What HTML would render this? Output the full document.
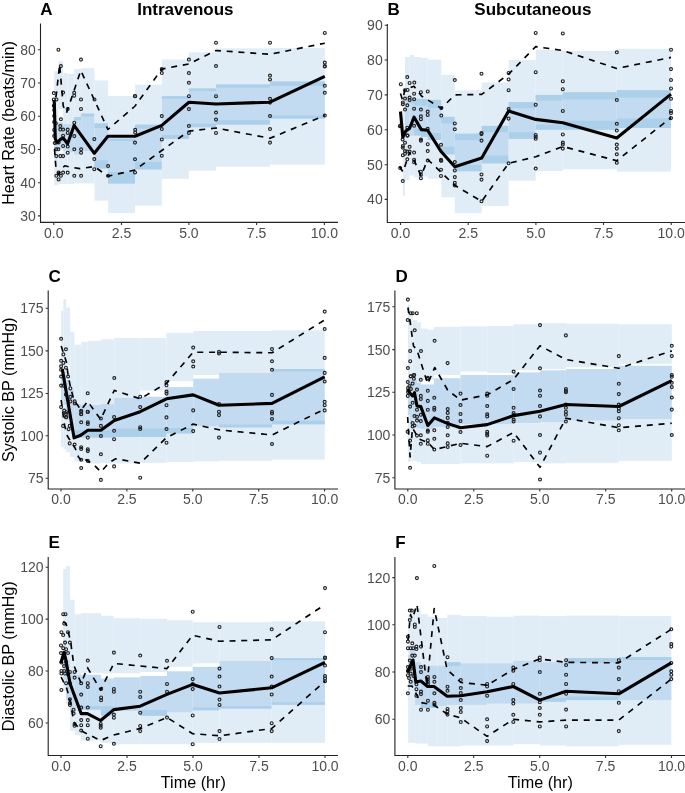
<!DOCTYPE html><html><head><meta charset="utf-8"><style>html,body{margin:0;padding:0;background:#fff;}svg{display:block;will-change:transform;}text{font-family:"Liberation Sans", sans-serif;}</style></head><body>
<svg width="685" height="793" viewBox="0 0 685 793">
<rect x="0" y="0" width="685" height="793" fill="#fff"/>
<g>
<rect x="54.2" y="71.2" width="4.1" height="114.1" fill="#e0edf7"/>
<rect x="54.2" y="122" width="4.1" height="28" fill="#c2dbf0"/>
<rect x="58.3" y="61.2" width="4.8" height="47.8" fill="#e0edf7"/>
<rect x="58.3" y="122" width="4.8" height="27" fill="#c2dbf0"/>
<rect x="58.3" y="153" width="4.8" height="31" fill="#e0edf7"/>
<rect x="63.1" y="73.1" width="4.4" height="110.9" fill="#e0edf7"/>
<rect x="63.1" y="124" width="4.4" height="27" fill="#c2dbf0"/>
<rect x="67.5" y="73.8" width="6.7" height="110.2" fill="#e0edf7"/>
<rect x="67.5" y="124" width="6.7" height="28" fill="#c2dbf0"/>
<rect x="74.2" y="69" width="7" height="114.4" fill="#e0edf7"/>
<rect x="74.2" y="117" width="7" height="37.4" fill="#c2dbf0"/>
<rect x="74.2" y="117" width="7" height="3.4" fill="#accfea"/>
<rect x="81.2" y="68.1" width="13.3" height="115.3" fill="#e0edf7"/>
<rect x="81.2" y="113.6" width="13.3" height="37.4" fill="#c2dbf0"/>
<rect x="81.2" y="113.6" width="13.3" height="2.8" fill="#accfea"/>
<rect x="94.5" y="80.5" width="13.6" height="120.1" fill="#e0edf7"/>
<rect x="94.5" y="123.4" width="13.6" height="45.1" fill="#c2dbf0"/>
<rect x="94.5" y="123.4" width="13.6" height="4.6" fill="#accfea"/>
<rect x="94.5" y="160.4" width="13.6" height="8.1" fill="#accfea"/>
<rect x="108.1" y="96" width="27" height="117" fill="#e0edf7"/>
<rect x="108.1" y="138.5" width="27" height="45" fill="#c2dbf0"/>
<rect x="108.1" y="138.5" width="27" height="2.5" fill="#accfea"/>
<rect x="108.1" y="172" width="27" height="11.5" fill="#accfea"/>
<rect x="135.1" y="84.6" width="26.7" height="121" fill="#e0edf7"/>
<rect x="135.1" y="124.7" width="26.7" height="44.7" fill="#c2dbf0"/>
<rect x="135.1" y="124.7" width="26.7" height="3.8" fill="#accfea"/>
<rect x="135.1" y="161.9" width="26.7" height="7.5" fill="#accfea"/>
<rect x="161.8" y="59.5" width="27.1" height="119.4" fill="#e0edf7"/>
<rect x="161.8" y="96.2" width="27.1" height="42.7" fill="#c2dbf0"/>
<rect x="161.8" y="96.2" width="27.1" height="2.6" fill="#accfea"/>
<rect x="161.8" y="135" width="27.1" height="3.9" fill="#accfea"/>
<rect x="188.9" y="52.3" width="27.1" height="118.3" fill="#e0edf7"/>
<rect x="188.9" y="88.5" width="27.1" height="38.7" fill="#c2dbf0"/>
<rect x="188.9" y="88.5" width="27.1" height="2.5" fill="#accfea"/>
<rect x="188.9" y="123.5" width="27.1" height="3.7" fill="#accfea"/>
<rect x="216" y="48.4" width="54" height="118.3" fill="#e0edf7"/>
<rect x="216" y="84.5" width="54" height="40.1" fill="#c2dbf0"/>
<rect x="216" y="84.5" width="54" height="3.1" fill="#accfea"/>
<rect x="216" y="120.2" width="54" height="4.4" fill="#accfea"/>
<rect x="270" y="47.9" width="54.8" height="116.7" fill="#e0edf7"/>
<rect x="270" y="81.5" width="54.8" height="37.1" fill="#c2dbf0"/>
<rect x="270" y="81.5" width="54.8" height="4.3" fill="#accfea"/>
<rect x="270" y="115.5" width="54.8" height="3.1" fill="#accfea"/>
<g fill="none" stroke="#222" stroke-width="1.15">
<circle cx="58.4" cy="49.7" r="1.45"/>
<circle cx="81" cy="59.6" r="1.45"/>
<circle cx="60.9" cy="66.1" r="1.45"/>
<circle cx="53.8" cy="93" r="1.45"/>
<circle cx="53.8" cy="99.4" r="1.45"/>
<circle cx="56.5" cy="99.4" r="1.45"/>
<circle cx="63.1" cy="92.6" r="1.45"/>
<circle cx="74.2" cy="92.8" r="1.45"/>
<circle cx="74.2" cy="95.7" r="1.45"/>
<circle cx="81" cy="99.4" r="1.45"/>
<circle cx="94.5" cy="99.4" r="1.45"/>
<circle cx="81" cy="108.9" r="1.45"/>
<circle cx="53.8" cy="105.8" r="1.45"/>
<circle cx="67.7" cy="109" r="1.45"/>
<circle cx="60.9" cy="119.3" r="1.45"/>
<circle cx="55.8" cy="123.2" r="1.45"/>
<circle cx="60.3" cy="126.1" r="1.45"/>
<circle cx="60.3" cy="129.5" r="1.45"/>
<circle cx="63.1" cy="129.5" r="1.45"/>
<circle cx="67.7" cy="129.5" r="1.45"/>
<circle cx="67.7" cy="132.9" r="1.45"/>
<circle cx="74.3" cy="122.7" r="1.45"/>
<circle cx="63.1" cy="135.7" r="1.45"/>
<circle cx="74.3" cy="136.1" r="1.45"/>
<circle cx="56.3" cy="142.5" r="1.45"/>
<circle cx="58.6" cy="142.5" r="1.45"/>
<circle cx="63.1" cy="145.9" r="1.45"/>
<circle cx="67.7" cy="146.5" r="1.45"/>
<circle cx="56.3" cy="149.3" r="1.45"/>
<circle cx="58.4" cy="149.3" r="1.45"/>
<circle cx="74.3" cy="149.3" r="1.45"/>
<circle cx="81.1" cy="149.3" r="1.45"/>
<circle cx="81.1" cy="152.7" r="1.45"/>
<circle cx="67.7" cy="152.7" r="1.45"/>
<circle cx="56.3" cy="156.1" r="1.45"/>
<circle cx="60.3" cy="156.1" r="1.45"/>
<circle cx="63.1" cy="156.1" r="1.45"/>
<circle cx="94.3" cy="139.1" r="1.45"/>
<circle cx="94.3" cy="159" r="1.45"/>
<circle cx="94.3" cy="169.2" r="1.45"/>
<circle cx="58.6" cy="172.6" r="1.45"/>
<circle cx="63.1" cy="172.6" r="1.45"/>
<circle cx="67.7" cy="172.6" r="1.45"/>
<circle cx="56.3" cy="175.8" r="1.45"/>
<circle cx="60.9" cy="175.8" r="1.45"/>
<circle cx="74.3" cy="175.8" r="1.45"/>
<circle cx="81.1" cy="175.8" r="1.45"/>
<circle cx="58.6" cy="179.4" r="1.45"/>
<circle cx="54.2" cy="110" r="1.45"/>
<circle cx="54.2" cy="116" r="1.45"/>
<circle cx="54.2" cy="122" r="1.45"/>
<circle cx="54.2" cy="130" r="1.45"/>
<circle cx="54.2" cy="136" r="1.45"/>
<circle cx="54.8" cy="143" r="1.45"/>
<circle cx="108.1" cy="166" r="1.45"/>
<circle cx="108.1" cy="175.8" r="1.45"/>
<circle cx="135" cy="142.6" r="1.45"/>
<circle cx="135" cy="159.3" r="1.45"/>
<circle cx="135" cy="172.4" r="1.45"/>
<circle cx="135.2" cy="96.2" r="1.45"/>
<circle cx="135.2" cy="129.8" r="1.45"/>
<circle cx="135.2" cy="132.4" r="1.45"/>
<circle cx="134.9" cy="95.9" r="1.45"/>
<circle cx="161.8" cy="69.1" r="1.45"/>
<circle cx="161.8" cy="73" r="1.45"/>
<circle cx="161.8" cy="116.1" r="1.45"/>
<circle cx="161.8" cy="129" r="1.45"/>
<circle cx="161.8" cy="139.4" r="1.45"/>
<circle cx="161.8" cy="155.7" r="1.45"/>
<circle cx="188.9" cy="59.5" r="1.45"/>
<circle cx="188.9" cy="73" r="1.45"/>
<circle cx="188.9" cy="82.8" r="1.45"/>
<circle cx="188.9" cy="96.2" r="1.45"/>
<circle cx="188.9" cy="109.1" r="1.45"/>
<circle cx="188.9" cy="126" r="1.45"/>
<circle cx="188.9" cy="132.9" r="1.45"/>
<circle cx="216" cy="42.7" r="1.45"/>
<circle cx="216" cy="66" r="1.45"/>
<circle cx="216" cy="96.2" r="1.45"/>
<circle cx="216" cy="112.5" r="1.45"/>
<circle cx="216" cy="119.5" r="1.45"/>
<circle cx="216" cy="132.9" r="1.45"/>
<circle cx="270" cy="42.7" r="1.45"/>
<circle cx="270" cy="75.5" r="1.45"/>
<circle cx="270" cy="79.4" r="1.45"/>
<circle cx="270" cy="98.8" r="1.45"/>
<circle cx="270" cy="102.6" r="1.45"/>
<circle cx="270" cy="116" r="1.45"/>
<circle cx="270" cy="129" r="1.45"/>
<circle cx="270" cy="142.6" r="1.45"/>
<circle cx="324.8" cy="32.9" r="1.45"/>
<circle cx="324.8" cy="62.6" r="1.45"/>
<circle cx="324.8" cy="66" r="1.45"/>
<circle cx="324.8" cy="66.5" r="1.45"/>
<circle cx="324.8" cy="85.8" r="1.45"/>
<circle cx="324.8" cy="92.8" r="1.45"/>
<circle cx="324.8" cy="115.5" r="1.45"/>
</g>
<polyline points="53.8,108.9 56.5,93 59.6,64.5 63.2,106 66.5,113 80.8,70.5 107.9,129.5 135.1,106 161.8,69.1 188.9,63.9 216,50.5 270,54.3 324.8,43.2" fill="none" stroke="#000" stroke-width="1.65" stroke-dasharray="6 5.8" stroke-linejoin="round"/>
<polyline points="54.5,149 55.8,166 58.6,174.8 62,168 64.8,165.8 72.2,167.5 80,168.6 94.3,166.5 107.9,176.2 135.1,170 161.8,150.5 188.9,131.1 216,128 270,138.3 324.8,115.5" fill="none" stroke="#000" stroke-width="1.65" stroke-dasharray="6 5.8" stroke-linejoin="round"/>
<polyline points="54.2,100 55.3,139 57.5,142.5 60.2,139.5 63.1,138 67.6,143.7 74.1,125.4 94.3,153.3 107.9,136.3 135.1,136.3 161.8,125.4 188.9,102.2 216,104 270,102.2 324.8,76.3" fill="none" stroke="#000" stroke-width="3.1" stroke-linejoin="round"/>
<path d="M40.5,23.6V222.4H338" fill="none" stroke="#222" stroke-width="1.1"/>
<path d="M53.8,222.4v2.6M121.5,222.4v2.6M188.9,222.4v2.6M256.6,222.4v2.6M324.4,222.4v2.6M40.5,215.9h-2.6M40.5,182.7h-2.6M40.5,149.5h-2.6M40.5,116.2h-2.6M40.5,83h-2.6M40.5,49.7h-2.6" stroke="#333" stroke-width="1.1" fill="none"/>
<g font-size="14" fill="#4d4d4d">
<text x="53.8" y="237.5" text-anchor="middle">0.0</text>
<text x="121.5" y="237.5" text-anchor="middle">2.5</text>
<text x="188.9" y="237.5" text-anchor="middle">5.0</text>
<text x="256.6" y="237.5" text-anchor="middle">7.5</text>
<text x="324.4" y="237.5" text-anchor="middle">10.0</text>
<text x="35.9" y="220.85" text-anchor="end">30</text>
<text x="35.9" y="187.65" text-anchor="end">40</text>
<text x="35.9" y="154.45" text-anchor="end">50</text>
<text x="35.9" y="121.15" text-anchor="end">60</text>
<text x="35.9" y="87.95" text-anchor="end">70</text>
<text x="35.9" y="54.65" text-anchor="end">80</text>
</g>
</g>
<g>
<rect x="402.8" y="87.4" width="2.2" height="108.4" fill="#e0edf7"/>
<rect x="405" y="57" width="4.6" height="122.9" fill="#e0edf7"/>
<rect x="405" y="97" width="4.6" height="37" fill="#c2dbf0"/>
<rect x="409.6" y="55.1" width="4.5" height="120.3" fill="#e0edf7"/>
<rect x="409.6" y="98.8" width="4.5" height="36.9" fill="#c2dbf0"/>
<rect x="409.6" y="98.8" width="4.5" height="4.5" fill="#accfea"/>
<rect x="414.1" y="57" width="6.8" height="120.6" fill="#e0edf7"/>
<rect x="414.1" y="98.8" width="6.8" height="36.7" fill="#c2dbf0"/>
<rect x="414.1" y="98.8" width="6.8" height="6.8" fill="#accfea"/>
<rect x="414.1" y="128.5" width="6.8" height="7" fill="#accfea"/>
<rect x="420.9" y="57.9" width="6.8" height="118.6" fill="#e0edf7"/>
<rect x="420.9" y="98.8" width="6.8" height="38.2" fill="#c2dbf0"/>
<rect x="420.9" y="98.8" width="6.8" height="6.8" fill="#accfea"/>
<rect x="420.9" y="129.5" width="6.8" height="7.5" fill="#accfea"/>
<rect x="427.7" y="59.6" width="13.6" height="119.2" fill="#e0edf7"/>
<rect x="427.7" y="99.9" width="13.6" height="40.1" fill="#c2dbf0"/>
<rect x="427.7" y="99.9" width="13.6" height="7.9" fill="#accfea"/>
<rect x="427.7" y="133" width="13.6" height="7" fill="#accfea"/>
<rect x="441.3" y="74.8" width="13.5" height="122.5" fill="#e0edf7"/>
<rect x="441.3" y="116.9" width="13.5" height="37.5" fill="#c2dbf0"/>
<rect x="441.3" y="116.9" width="13.5" height="6.5" fill="#accfea"/>
<rect x="441.3" y="146.6" width="13.5" height="7.8" fill="#accfea"/>
<rect x="454.8" y="90.3" width="26.9" height="122.9" fill="#e0edf7"/>
<rect x="454.8" y="133.7" width="26.9" height="37.5" fill="#c2dbf0"/>
<rect x="454.8" y="133.7" width="26.9" height="6.5" fill="#accfea"/>
<rect x="454.8" y="164.7" width="26.9" height="6.5" fill="#accfea"/>
<rect x="481.7" y="82.5" width="26.9" height="123.4" fill="#e0edf7"/>
<rect x="481.7" y="125.9" width="26.9" height="37.4" fill="#c2dbf0"/>
<rect x="481.7" y="125.9" width="26.9" height="6.4" fill="#accfea"/>
<rect x="481.7" y="155.6" width="26.9" height="7.7" fill="#accfea"/>
<rect x="508.6" y="60" width="27.1" height="120.6" fill="#e0edf7"/>
<rect x="508.6" y="102.1" width="27.1" height="36.7" fill="#c2dbf0"/>
<rect x="508.6" y="102.1" width="27.1" height="6.2" fill="#accfea"/>
<rect x="508.6" y="132.3" width="27.1" height="6.5" fill="#accfea"/>
<rect x="535.7" y="49.7" width="27.1" height="121.3" fill="#e0edf7"/>
<rect x="535.7" y="94.9" width="27.1" height="34.8" fill="#c2dbf0"/>
<rect x="535.7" y="94.9" width="27.1" height="5.7" fill="#accfea"/>
<rect x="535.7" y="124.6" width="27.1" height="5.1" fill="#accfea"/>
<rect x="562.8" y="51" width="54" height="118.2" fill="#e0edf7"/>
<rect x="562.8" y="92.3" width="54" height="37.4" fill="#c2dbf0"/>
<rect x="562.8" y="92.3" width="54" height="7.2" fill="#accfea"/>
<rect x="562.8" y="120.7" width="54" height="9" fill="#accfea"/>
<rect x="616.8" y="48.9" width="54.2" height="122.7" fill="#e0edf7"/>
<rect x="616.8" y="90.2" width="54.2" height="37.7" fill="#c2dbf0"/>
<rect x="616.8" y="90.2" width="54.2" height="7.3" fill="#accfea"/>
<rect x="616.8" y="118.6" width="54.2" height="9.3" fill="#accfea"/>
<g fill="none" stroke="#222" stroke-width="1.15">
<circle cx="407.3" cy="77" r="1.45"/>
<circle cx="400.8" cy="84.2" r="1.45"/>
<circle cx="409.6" cy="82.9" r="1.45"/>
<circle cx="414.3" cy="82.5" r="1.45"/>
<circle cx="405" cy="90.3" r="1.45"/>
<circle cx="407.6" cy="89.9" r="1.45"/>
<circle cx="414.1" cy="93.7" r="1.45"/>
<circle cx="420.9" cy="92.2" r="1.45"/>
<circle cx="427.7" cy="91.4" r="1.45"/>
<circle cx="405" cy="98.5" r="1.45"/>
<circle cx="409.6" cy="97.6" r="1.45"/>
<circle cx="409.6" cy="99.9" r="1.45"/>
<circle cx="414.1" cy="99.3" r="1.45"/>
<circle cx="402.8" cy="102.4" r="1.45"/>
<circle cx="402.8" cy="104.2" r="1.45"/>
<circle cx="407.3" cy="105.3" r="1.45"/>
<circle cx="405" cy="109.5" r="1.45"/>
<circle cx="414.1" cy="108.7" r="1.45"/>
<circle cx="420.9" cy="109.5" r="1.45"/>
<circle cx="427.7" cy="111.5" r="1.45"/>
<circle cx="427.7" cy="114.9" r="1.45"/>
<circle cx="420.9" cy="116.3" r="1.45"/>
<circle cx="420.9" cy="119.2" r="1.45"/>
<circle cx="441.3" cy="115.5" r="1.45"/>
<circle cx="441.3" cy="108.1" r="1.45"/>
<circle cx="399.9" cy="126.2" r="1.45"/>
<circle cx="407.3" cy="127.7" r="1.45"/>
<circle cx="414.1" cy="125.8" r="1.45"/>
<circle cx="427.7" cy="128.8" r="1.45"/>
<circle cx="407.3" cy="135.6" r="1.45"/>
<circle cx="420.9" cy="139.6" r="1.45"/>
<circle cx="407.6" cy="135.4" r="1.45"/>
<circle cx="420.9" cy="140.8" r="1.45"/>
<circle cx="427.7" cy="144.2" r="1.45"/>
<circle cx="441" cy="144.7" r="1.45"/>
<circle cx="405" cy="142.7" r="1.45"/>
<circle cx="402.8" cy="145.9" r="1.45"/>
<circle cx="402.8" cy="147.6" r="1.45"/>
<circle cx="409.6" cy="146.8" r="1.45"/>
<circle cx="405" cy="151" r="1.45"/>
<circle cx="407.3" cy="151.5" r="1.45"/>
<circle cx="409.6" cy="151.5" r="1.45"/>
<circle cx="414.1" cy="152.5" r="1.45"/>
<circle cx="427.7" cy="151" r="1.45"/>
<circle cx="402.8" cy="155.2" r="1.45"/>
<circle cx="405" cy="153.8" r="1.45"/>
<circle cx="407.3" cy="159.3" r="1.45"/>
<circle cx="414.1" cy="159.7" r="1.45"/>
<circle cx="414.1" cy="162.3" r="1.45"/>
<circle cx="427.7" cy="160.4" r="1.45"/>
<circle cx="441" cy="159.7" r="1.45"/>
<circle cx="441" cy="160.4" r="1.45"/>
<circle cx="400.2" cy="168" r="1.45"/>
<circle cx="420.9" cy="171.7" r="1.45"/>
<circle cx="420.9" cy="174.8" r="1.45"/>
<circle cx="420.9" cy="178.2" r="1.45"/>
<circle cx="441" cy="169.7" r="1.45"/>
<circle cx="441" cy="175.9" r="1.45"/>
<circle cx="402.8" cy="181" r="1.45"/>
<circle cx="400.5" cy="125.4" r="1.45"/>
<circle cx="402.6" cy="139.4" r="1.45"/>
<circle cx="441.3" cy="160.8" r="1.45"/>
<circle cx="454.8" cy="80" r="1.45"/>
<circle cx="454.8" cy="123.4" r="1.45"/>
<circle cx="454.8" cy="129.3" r="1.45"/>
<circle cx="454.8" cy="162.1" r="1.45"/>
<circle cx="454.8" cy="170.4" r="1.45"/>
<circle cx="454.8" cy="177.1" r="1.45"/>
<circle cx="454.8" cy="182.8" r="1.45"/>
<circle cx="454.8" cy="185.4" r="1.45"/>
<circle cx="481.5" cy="73.7" r="1.45"/>
<circle cx="481.5" cy="133.1" r="1.45"/>
<circle cx="481.5" cy="134.1" r="1.45"/>
<circle cx="481.5" cy="140.6" r="1.45"/>
<circle cx="481.5" cy="174.4" r="1.45"/>
<circle cx="481.5" cy="179.6" r="1.45"/>
<circle cx="481.5" cy="201.3" r="1.45"/>
<circle cx="508.6" cy="72.9" r="1.45"/>
<circle cx="508.6" cy="79.4" r="1.45"/>
<circle cx="508.6" cy="90.2" r="1.45"/>
<circle cx="508.6" cy="109.1" r="1.45"/>
<circle cx="508.6" cy="118.6" r="1.45"/>
<circle cx="508.6" cy="163.3" r="1.45"/>
<circle cx="535.7" cy="32.9" r="1.45"/>
<circle cx="535.7" cy="72.2" r="1.45"/>
<circle cx="535.7" cy="104.7" r="1.45"/>
<circle cx="535.7" cy="134.9" r="1.45"/>
<circle cx="535.7" cy="136.7" r="1.45"/>
<circle cx="535.7" cy="138.8" r="1.45"/>
<circle cx="535.7" cy="168.5" r="1.45"/>
<circle cx="562.8" cy="33.4" r="1.45"/>
<circle cx="562.8" cy="81.2" r="1.45"/>
<circle cx="562.8" cy="89.2" r="1.45"/>
<circle cx="562.8" cy="110.9" r="1.45"/>
<circle cx="562.8" cy="134.4" r="1.45"/>
<circle cx="562.8" cy="142.6" r="1.45"/>
<circle cx="562.8" cy="144.5" r="1.45"/>
<circle cx="562.8" cy="148.6" r="1.45"/>
<circle cx="616.8" cy="52.3" r="1.45"/>
<circle cx="616.8" cy="100" r="1.45"/>
<circle cx="616.8" cy="123.8" r="1.45"/>
<circle cx="616.8" cy="130.5" r="1.45"/>
<circle cx="616.8" cy="144.5" r="1.45"/>
<circle cx="616.8" cy="148.6" r="1.45"/>
<circle cx="616.8" cy="154.3" r="1.45"/>
<circle cx="616.8" cy="162.8" r="1.45"/>
<circle cx="671" cy="49.7" r="1.45"/>
<circle cx="671" cy="69.1" r="1.45"/>
<circle cx="671" cy="79.9" r="1.45"/>
<circle cx="671" cy="88.4" r="1.45"/>
<circle cx="671" cy="98.8" r="1.45"/>
<circle cx="671" cy="110.9" r="1.45"/>
<circle cx="671" cy="113" r="1.45"/>
<circle cx="671" cy="118.1" r="1.45"/>
</g>
<polyline points="400.5,93.5 402.5,100 405,89.5 414,86.3 421.5,96 441.3,108.4 454.8,94.9 481.7,94.4 508.6,74.2 535.7,46.6 562.8,50.5 616.8,68.5 671,57.4" fill="none" stroke="#000" stroke-width="1.65" stroke-dasharray="6 5.8" stroke-linejoin="round"/>
<polyline points="399.5,166.5 403,172 409.5,152.5 414,160 421,176 427.7,159.5 441.3,172.5 454.8,185.4 481.7,201.4 508.6,163.3 535.7,156.8 562.8,146.5 616.8,160.7 671,117.6" fill="none" stroke="#000" stroke-width="1.65" stroke-dasharray="6 5.8" stroke-linejoin="round"/>
<polyline points="400.5,111.5 402.8,137.3 405.7,131.1 409.5,128.5 414.1,117.2 421.3,129.6 427.7,130.3 441.3,151.8 454.8,166.8 481.7,158 508.6,110.9 535.7,119.4 562.8,122.8 616.8,138 671,94.1" fill="none" stroke="#000" stroke-width="3.1" stroke-linejoin="round"/>
<path d="M387.3,24.1V222.5H686" fill="none" stroke="#222" stroke-width="1.1"/>
<path d="M400.5,222.5v2.6M468.2,222.5v2.6M535.9,222.5v2.6M603.5,222.5v2.6M671.2,222.5v2.6M387.3,199.4h-2.6M387.3,164.7h-2.6M387.3,129.8h-2.6M387.3,94.9h-2.6M387.3,60h-2.6M387.3,25.2h-2.6" stroke="#333" stroke-width="1.1" fill="none"/>
<g font-size="14" fill="#4d4d4d">
<text x="400.5" y="237.6" text-anchor="middle">0.0</text>
<text x="468.2" y="237.6" text-anchor="middle">2.5</text>
<text x="535.9" y="237.6" text-anchor="middle">5.0</text>
<text x="603.5" y="237.6" text-anchor="middle">7.5</text>
<text x="671.2" y="237.6" text-anchor="middle">10.0</text>
<text x="382.7" y="204.35" text-anchor="end">40</text>
<text x="382.7" y="169.65" text-anchor="end">50</text>
<text x="382.7" y="134.75" text-anchor="end">60</text>
<text x="382.7" y="99.85" text-anchor="end">70</text>
<text x="382.7" y="64.95" text-anchor="end">80</text>
<text x="382.7" y="30.15" text-anchor="end">90</text>
</g>
</g>
<g>
<rect x="61" y="310.8" width="2.4" height="136.2" fill="#e0edf7"/>
<rect x="61" y="370" width="2.4" height="30" fill="#c2dbf0"/>
<rect x="63.4" y="299.2" width="2.7" height="149.8" fill="#e0edf7"/>
<rect x="63.4" y="372" width="2.7" height="33" fill="#c2dbf0"/>
<rect x="66.1" y="307.6" width="4.1" height="57.4" fill="#e0edf7"/>
<rect x="66.1" y="372" width="4.1" height="80" fill="#e0edf7"/>
<rect x="66.1" y="380" width="4.1" height="40" fill="#c2dbf0"/>
<rect x="70.2" y="332" width="4.2" height="125" fill="#e0edf7"/>
<rect x="70.2" y="390" width="4.2" height="40" fill="#c2dbf0"/>
<rect x="74.4" y="344.7" width="6.8" height="116.8" fill="#e0edf7"/>
<rect x="74.4" y="404" width="6.8" height="33.5" fill="#c2dbf0"/>
<rect x="74.4" y="430" width="6.8" height="7.5" fill="#accfea"/>
<rect x="81.2" y="341.9" width="6.6" height="119.6" fill="#e0edf7"/>
<rect x="81.2" y="404.5" width="6.6" height="33" fill="#c2dbf0"/>
<rect x="81.2" y="430" width="6.6" height="7.5" fill="#accfea"/>
<rect x="87.8" y="340.8" width="13.1" height="122.7" fill="#e0edf7"/>
<rect x="87.8" y="405" width="13.1" height="32.5" fill="#c2dbf0"/>
<rect x="87.8" y="430.3" width="13.1" height="7.2" fill="#accfea"/>
<rect x="100.9" y="339.3" width="13.4" height="123.7" fill="#e0edf7"/>
<rect x="100.9" y="404" width="13.4" height="33.5" fill="#c2dbf0"/>
<rect x="100.9" y="430.3" width="13.4" height="7.2" fill="#accfea"/>
<rect x="114.3" y="338" width="25.9" height="125.4" fill="#e0edf7"/>
<rect x="114.3" y="398" width="25.9" height="39" fill="#c2dbf0"/>
<rect x="114.3" y="428.5" width="25.9" height="8.5" fill="#accfea"/>
<rect x="140.2" y="338" width="26.3" height="52.5" fill="#e0edf7"/>
<rect x="140.2" y="396.7" width="26.3" height="40.3" fill="#c2dbf0"/>
<rect x="140.2" y="428.5" width="26.3" height="8.5" fill="#accfea"/>
<rect x="140.2" y="437" width="26.3" height="25.9" fill="#e0edf7"/>
<rect x="166.5" y="332.8" width="26.7" height="48.4" fill="#e0edf7"/>
<rect x="166.5" y="387.1" width="26.7" height="46.6" fill="#c2dbf0"/>
<rect x="166.5" y="428" width="26.7" height="5.7" fill="#accfea"/>
<rect x="166.5" y="433.7" width="26.7" height="28.4" fill="#e0edf7"/>
<rect x="193.2" y="331" width="25.8" height="44" fill="#e0edf7"/>
<rect x="193.2" y="378.6" width="25.8" height="48.1" fill="#c2dbf0"/>
<rect x="193.2" y="426.7" width="25.8" height="34.7" fill="#e0edf7"/>
<rect x="219" y="331" width="53" height="41.9" fill="#e0edf7"/>
<rect x="219" y="372.9" width="53" height="54.8" fill="#c2dbf0"/>
<rect x="219" y="424.6" width="53" height="3.1" fill="#accfea"/>
<rect x="219" y="427.7" width="53" height="33.1" fill="#e0edf7"/>
<rect x="272" y="330.3" width="52.7" height="38.7" fill="#e0edf7"/>
<rect x="272" y="369" width="52.7" height="55.6" fill="#c2dbf0"/>
<rect x="272" y="369" width="52.7" height="2.6" fill="#accfea"/>
<rect x="272" y="420.8" width="52.7" height="3.8" fill="#accfea"/>
<rect x="272" y="424.6" width="52.7" height="35" fill="#e0edf7"/>
<g fill="none" stroke="#222" stroke-width="1.15">
<circle cx="61.1" cy="338.8" r="1.45"/>
<circle cx="65.9" cy="349.3" r="1.45"/>
<circle cx="63.4" cy="354.4" r="1.45"/>
<circle cx="61.1" cy="360.8" r="1.45"/>
<circle cx="63.4" cy="362.9" r="1.45"/>
<circle cx="61.1" cy="366.3" r="1.45"/>
<circle cx="65.9" cy="367.7" r="1.45"/>
<circle cx="61.1" cy="369.7" r="1.45"/>
<circle cx="61.1" cy="376.5" r="1.45"/>
<circle cx="68.1" cy="376.5" r="1.45"/>
<circle cx="61.1" cy="385.6" r="1.45"/>
<circle cx="63.4" cy="385.6" r="1.45"/>
<circle cx="70.4" cy="388.4" r="1.45"/>
<circle cx="65.9" cy="394.6" r="1.45"/>
<circle cx="70.4" cy="396.9" r="1.45"/>
<circle cx="70.4" cy="401.4" r="1.45"/>
<circle cx="74.7" cy="401.4" r="1.45"/>
<circle cx="74.7" cy="403.5" r="1.45"/>
<circle cx="87.7" cy="393.3" r="1.45"/>
<circle cx="81.2" cy="410.7" r="1.45"/>
<circle cx="81.2" cy="413.9" r="1.45"/>
<circle cx="87.7" cy="411.7" r="1.45"/>
<circle cx="61.1" cy="407.1" r="1.45"/>
<circle cx="64.2" cy="410.5" r="1.45"/>
<circle cx="65.9" cy="413.9" r="1.45"/>
<circle cx="65.9" cy="417.3" r="1.45"/>
<circle cx="81.2" cy="411.6" r="1.45"/>
<circle cx="87.8" cy="412" r="1.45"/>
<circle cx="81.2" cy="414.2" r="1.45"/>
<circle cx="66.4" cy="412.2" r="1.45"/>
<circle cx="66.4" cy="417.1" r="1.45"/>
<circle cx="81.2" cy="422.3" r="1.45"/>
<circle cx="87.8" cy="422.3" r="1.45"/>
<circle cx="87.8" cy="424" r="1.45"/>
<circle cx="100.9" cy="418.5" r="1.45"/>
<circle cx="100.9" cy="425.9" r="1.45"/>
<circle cx="114.1" cy="417.1" r="1.45"/>
<circle cx="114.1" cy="430.8" r="1.45"/>
<circle cx="100.9" cy="436" r="1.45"/>
<circle cx="114.1" cy="439.2" r="1.45"/>
<circle cx="87.8" cy="437.6" r="1.45"/>
<circle cx="63.1" cy="425.9" r="1.45"/>
<circle cx="68.6" cy="429.2" r="1.45"/>
<circle cx="69.7" cy="425.9" r="1.45"/>
<circle cx="69.7" cy="443.4" r="1.45"/>
<circle cx="74.6" cy="444.5" r="1.45"/>
<circle cx="81.2" cy="447.2" r="1.45"/>
<circle cx="81.2" cy="448.9" r="1.45"/>
<circle cx="87.8" cy="449.4" r="1.45"/>
<circle cx="87.8" cy="451.1" r="1.45"/>
<circle cx="100.9" cy="454.3" r="1.45"/>
<circle cx="81.2" cy="459.8" r="1.45"/>
<circle cx="87.8" cy="460.9" r="1.45"/>
<circle cx="81.2" cy="468" r="1.45"/>
<circle cx="114.1" cy="466.4" r="1.45"/>
<circle cx="100.9" cy="479.9" r="1.45"/>
<circle cx="114.3" cy="378" r="1.45"/>
<circle cx="140.2" cy="396.7" r="1.45"/>
<circle cx="140.2" cy="407.1" r="1.45"/>
<circle cx="140.2" cy="427.2" r="1.45"/>
<circle cx="140.2" cy="429" r="1.45"/>
<circle cx="140.2" cy="477.7" r="1.45"/>
<circle cx="166.5" cy="382" r="1.45"/>
<circle cx="166.5" cy="385.3" r="1.45"/>
<circle cx="166.5" cy="391.5" r="1.45"/>
<circle cx="166.5" cy="393.6" r="1.45"/>
<circle cx="166.5" cy="405.2" r="1.45"/>
<circle cx="166.5" cy="417.4" r="1.45"/>
<circle cx="166.5" cy="429" r="1.45"/>
<circle cx="166.5" cy="442.7" r="1.45"/>
<circle cx="193.2" cy="347.6" r="1.45"/>
<circle cx="193.2" cy="361.3" r="1.45"/>
<circle cx="193.2" cy="366.5" r="1.45"/>
<circle cx="193.2" cy="410.4" r="1.45"/>
<circle cx="193.2" cy="431.1" r="1.45"/>
<circle cx="219" cy="351.7" r="1.45"/>
<circle cx="219" cy="353.5" r="1.45"/>
<circle cx="219" cy="404" r="1.45"/>
<circle cx="219" cy="411.7" r="1.45"/>
<circle cx="219" cy="415.1" r="1.45"/>
<circle cx="219" cy="437.6" r="1.45"/>
<circle cx="272" cy="349.1" r="1.45"/>
<circle cx="272" cy="361.3" r="1.45"/>
<circle cx="272" cy="369.8" r="1.45"/>
<circle cx="272" cy="394.9" r="1.45"/>
<circle cx="272" cy="411.7" r="1.45"/>
<circle cx="272" cy="413.5" r="1.45"/>
<circle cx="272" cy="419" r="1.45"/>
<circle cx="272" cy="444" r="1.45"/>
<circle cx="324.7" cy="311.6" r="1.45"/>
<circle cx="324.7" cy="329" r="1.45"/>
<circle cx="324.7" cy="357.9" r="1.45"/>
<circle cx="324.7" cy="372.9" r="1.45"/>
<circle cx="324.7" cy="381.5" r="1.45"/>
<circle cx="324.7" cy="401.9" r="1.45"/>
<circle cx="324.7" cy="405.2" r="1.45"/>
<circle cx="324.7" cy="410.4" r="1.45"/>
</g>
<polyline points="61.2,346 64.5,356 67,364 67.6,372 70.6,388 74,400 81,410 87.6,401.3 100.6,419.4 114.3,390.4 140.2,398.8 166.5,383.3 193.2,352.2 219,352.2 272,352.8 324.7,319.9" fill="none" stroke="#000" stroke-width="1.65" stroke-dasharray="6 5.8" stroke-linejoin="round"/>
<polyline points="61.2,400 62.5,410 64.5,425 67.5,436.3 75.2,448.3 78.5,457.1 82.8,462.6 86.1,459.8 93.8,464.7 100.9,471.9 109.1,462.6 115.7,458.7 140.2,463.2 166.5,437.6 193.2,424.1 219,429.8 272,435 324.7,409.1" fill="none" stroke="#000" stroke-width="1.65" stroke-dasharray="6 5.8" stroke-linejoin="round"/>
<polyline points="62.3,369 74.1,437.9 80.7,435.2 87.8,430.3 100.9,430.3 114.3,420.5 140.2,411.7 166.5,398.8 193.2,394.9 219,405.2 272,403.4 324.7,376.8" fill="none" stroke="#000" stroke-width="3.1" stroke-linejoin="round"/>
<path d="M48.2,290.6V489H338" fill="none" stroke="#222" stroke-width="1.1"/>
<path d="M61,489v2.6M126.9,489v2.6M192.8,489v2.6M258.7,489v2.6M324.6,489v2.6M48.2,478.2h-2.6M48.2,435.8h-2.6M48.2,393.5h-2.6M48.2,350.9h-2.6M48.2,308.3h-2.6" stroke="#333" stroke-width="1.1" fill="none"/>
<g font-size="14" fill="#4d4d4d">
<text x="61" y="504.1" text-anchor="middle">0.0</text>
<text x="126.9" y="504.1" text-anchor="middle">2.5</text>
<text x="192.8" y="504.1" text-anchor="middle">5.0</text>
<text x="258.7" y="504.1" text-anchor="middle">7.5</text>
<text x="324.6" y="504.1" text-anchor="middle">10.0</text>
<text x="43.6" y="483.15" text-anchor="end">75</text>
<text x="43.6" y="440.75" text-anchor="end">100</text>
<text x="43.6" y="398.45" text-anchor="end">125</text>
<text x="43.6" y="355.85" text-anchor="end">150</text>
<text x="43.6" y="313.25" text-anchor="end">175</text>
</g>
</g>
<g>
<rect x="407.9" y="304.7" width="2.3" height="157.4" fill="#e0edf7"/>
<rect x="407.9" y="378" width="2.3" height="37" fill="#c2dbf0"/>
<rect x="410.2" y="312" width="2.3" height="148.8" fill="#e0edf7"/>
<rect x="410.2" y="378" width="2.3" height="47" fill="#c2dbf0"/>
<rect x="412.5" y="320" width="4.5" height="141" fill="#e0edf7"/>
<rect x="412.5" y="380" width="4.5" height="40" fill="#c2dbf0"/>
<rect x="417" y="322.3" width="4" height="139.8" fill="#e0edf7"/>
<rect x="417" y="383" width="4" height="45" fill="#c2dbf0"/>
<rect x="421" y="328.6" width="6.8" height="51.4" fill="#e0edf7"/>
<rect x="421" y="384.5" width="6.8" height="44.8" fill="#c2dbf0"/>
<rect x="421" y="429.3" width="6.8" height="34.7" fill="#e0edf7"/>
<rect x="427.8" y="329.7" width="6.2" height="50.3" fill="#e0edf7"/>
<rect x="427.8" y="384.5" width="6.2" height="44.8" fill="#c2dbf0"/>
<rect x="427.8" y="429.3" width="6.2" height="34.7" fill="#e0edf7"/>
<rect x="434" y="326.9" width="26.5" height="48.1" fill="#e0edf7"/>
<rect x="434" y="378.2" width="26.5" height="48.8" fill="#c2dbf0"/>
<rect x="434" y="427" width="26.5" height="37" fill="#e0edf7"/>
<rect x="460.5" y="326.4" width="26.7" height="45.2" fill="#e0edf7"/>
<rect x="460.5" y="375" width="26.7" height="49.6" fill="#c2dbf0"/>
<rect x="460.5" y="424.6" width="26.7" height="38.8" fill="#e0edf7"/>
<rect x="487.2" y="325.9" width="26.4" height="47" fill="#e0edf7"/>
<rect x="487.2" y="375" width="26.4" height="49.6" fill="#c2dbf0"/>
<rect x="487.2" y="424.6" width="26.4" height="38.8" fill="#e0edf7"/>
<rect x="513.6" y="324.3" width="26.4" height="46" fill="#e0edf7"/>
<rect x="513.6" y="372.4" width="26.4" height="50.9" fill="#c2dbf0"/>
<rect x="513.6" y="423.3" width="26.4" height="38.8" fill="#e0edf7"/>
<rect x="540" y="323.3" width="25.9" height="45.7" fill="#e0edf7"/>
<rect x="540" y="370.3" width="25.9" height="51.7" fill="#c2dbf0"/>
<rect x="540" y="422" width="25.9" height="41.4" fill="#e0edf7"/>
<rect x="565.9" y="323.8" width="52.9" height="43.4" fill="#e0edf7"/>
<rect x="565.9" y="369" width="52.9" height="51.8" fill="#c2dbf0"/>
<rect x="565.9" y="420.8" width="52.9" height="42.1" fill="#e0edf7"/>
<rect x="618.8" y="324.3" width="53" height="39.6" fill="#e0edf7"/>
<rect x="618.8" y="365.7" width="53" height="53.3" fill="#c2dbf0"/>
<rect x="618.8" y="419" width="53" height="41.8" fill="#e0edf7"/>
<g fill="none" stroke="#222" stroke-width="1.15">
<circle cx="407.9" cy="299.6" r="1.45"/>
<circle cx="410.8" cy="313.2" r="1.45"/>
<circle cx="412.7" cy="313.2" r="1.45"/>
<circle cx="416.8" cy="313.2" r="1.45"/>
<circle cx="407.7" cy="320" r="1.45"/>
<circle cx="414.7" cy="330.3" r="1.45"/>
<circle cx="434.6" cy="340.8" r="1.45"/>
<circle cx="410.2" cy="351" r="1.45"/>
<circle cx="421" cy="351" r="1.45"/>
<circle cx="410.2" cy="361.2" r="1.45"/>
<circle cx="447.6" cy="363.1" r="1.45"/>
<circle cx="407.9" cy="368" r="1.45"/>
<circle cx="410.8" cy="376.2" r="1.45"/>
<circle cx="414.2" cy="375" r="1.45"/>
<circle cx="427.8" cy="377.9" r="1.45"/>
<circle cx="413.9" cy="375" r="1.45"/>
<circle cx="410.7" cy="376.3" r="1.45"/>
<circle cx="413.9" cy="378.8" r="1.45"/>
<circle cx="420.8" cy="379.8" r="1.45"/>
<circle cx="427.8" cy="378.8" r="1.45"/>
<circle cx="407.8" cy="382" r="1.45"/>
<circle cx="412.6" cy="383.6" r="1.45"/>
<circle cx="417" cy="389.6" r="1.45"/>
<circle cx="427.8" cy="390.8" r="1.45"/>
<circle cx="407.8" cy="395.9" r="1.45"/>
<circle cx="420.8" cy="395.9" r="1.45"/>
<circle cx="420.8" cy="399" r="1.45"/>
<circle cx="427.8" cy="400.9" r="1.45"/>
<circle cx="434.3" cy="397.8" r="1.45"/>
<circle cx="412.6" cy="402.8" r="1.45"/>
<circle cx="410.1" cy="406.6" r="1.45"/>
<circle cx="417" cy="409.7" r="1.45"/>
<circle cx="427.8" cy="409.7" r="1.45"/>
<circle cx="434.3" cy="407.8" r="1.45"/>
<circle cx="434.3" cy="409.7" r="1.45"/>
<circle cx="447.7" cy="409.1" r="1.45"/>
<circle cx="447.7" cy="412.9" r="1.45"/>
<circle cx="447.7" cy="417.9" r="1.45"/>
<circle cx="447.7" cy="422.7" r="1.45"/>
<circle cx="447.7" cy="427" r="1.45"/>
<circle cx="414.5" cy="416" r="1.45"/>
<circle cx="417" cy="416.7" r="1.45"/>
<circle cx="420.8" cy="414.8" r="1.45"/>
<circle cx="417" cy="420.5" r="1.45"/>
<circle cx="420.8" cy="421.1" r="1.45"/>
<circle cx="412.6" cy="423" r="1.45"/>
<circle cx="414.5" cy="425.5" r="1.45"/>
<circle cx="412.6" cy="426.5" r="1.45"/>
<circle cx="407.6" cy="431.8" r="1.45"/>
<circle cx="427.8" cy="430.6" r="1.45"/>
<circle cx="427.8" cy="431.8" r="1.45"/>
<circle cx="434.3" cy="430.3" r="1.45"/>
<circle cx="417" cy="435.6" r="1.45"/>
<circle cx="420.8" cy="435.3" r="1.45"/>
<circle cx="434.3" cy="438.8" r="1.45"/>
<circle cx="447.7" cy="435.3" r="1.45"/>
<circle cx="427.8" cy="440.4" r="1.45"/>
<circle cx="427.8" cy="443.8" r="1.45"/>
<circle cx="420.8" cy="443.8" r="1.45"/>
<circle cx="410.1" cy="440.6" r="1.45"/>
<circle cx="434.3" cy="449.5" r="1.45"/>
<circle cx="447.7" cy="443.4" r="1.45"/>
<circle cx="447.7" cy="447" r="1.45"/>
<circle cx="410.1" cy="467.8" r="1.45"/>
<circle cx="408" cy="388" r="1.45"/>
<circle cx="408" cy="392" r="1.45"/>
<circle cx="409.5" cy="386" r="1.45"/>
<circle cx="411" cy="389" r="1.45"/>
<circle cx="460.5" cy="393.6" r="1.45"/>
<circle cx="460.5" cy="405" r="1.45"/>
<circle cx="460.5" cy="414" r="1.45"/>
<circle cx="460.5" cy="421" r="1.45"/>
<circle cx="460.5" cy="432" r="1.45"/>
<circle cx="460.5" cy="445" r="1.45"/>
<circle cx="487.2" cy="393.6" r="1.45"/>
<circle cx="487.2" cy="395.7" r="1.45"/>
<circle cx="487.2" cy="406" r="1.45"/>
<circle cx="487.2" cy="414.3" r="1.45"/>
<circle cx="487.2" cy="416.4" r="1.45"/>
<circle cx="487.2" cy="431.9" r="1.45"/>
<circle cx="487.2" cy="433.7" r="1.45"/>
<circle cx="487.2" cy="435.5" r="1.45"/>
<circle cx="487.2" cy="455.7" r="1.45"/>
<circle cx="513.6" cy="371.6" r="1.45"/>
<circle cx="513.6" cy="389" r="1.45"/>
<circle cx="513.6" cy="407.8" r="1.45"/>
<circle cx="513.6" cy="413" r="1.45"/>
<circle cx="513.6" cy="415.1" r="1.45"/>
<circle cx="513.6" cy="419.5" r="1.45"/>
<circle cx="513.6" cy="421.5" r="1.45"/>
<circle cx="513.6" cy="440.7" r="1.45"/>
<circle cx="540" cy="325.1" r="1.45"/>
<circle cx="540" cy="368.3" r="1.45"/>
<circle cx="540" cy="390.5" r="1.45"/>
<circle cx="540" cy="395.7" r="1.45"/>
<circle cx="540" cy="406" r="1.45"/>
<circle cx="540" cy="416.4" r="1.45"/>
<circle cx="540" cy="435" r="1.45"/>
<circle cx="540" cy="452.6" r="1.45"/>
<circle cx="540" cy="479.5" r="1.45"/>
<circle cx="565.9" cy="335.4" r="1.45"/>
<circle cx="565.9" cy="389" r="1.45"/>
<circle cx="565.9" cy="391" r="1.45"/>
<circle cx="565.9" cy="392.3" r="1.45"/>
<circle cx="565.9" cy="404.5" r="1.45"/>
<circle cx="565.9" cy="407.8" r="1.45"/>
<circle cx="565.9" cy="411.7" r="1.45"/>
<circle cx="565.9" cy="414.8" r="1.45"/>
<circle cx="565.9" cy="421.5" r="1.45"/>
<circle cx="618.8" cy="356.1" r="1.45"/>
<circle cx="618.8" cy="383.8" r="1.45"/>
<circle cx="618.8" cy="394.1" r="1.45"/>
<circle cx="618.8" cy="404.5" r="1.45"/>
<circle cx="618.8" cy="408.6" r="1.45"/>
<circle cx="618.8" cy="411.2" r="1.45"/>
<circle cx="618.8" cy="418.2" r="1.45"/>
<circle cx="618.8" cy="425.2" r="1.45"/>
<circle cx="618.8" cy="430.3" r="1.45"/>
<circle cx="671.8" cy="345.8" r="1.45"/>
<circle cx="671.8" cy="356.1" r="1.45"/>
<circle cx="671.8" cy="375" r="1.45"/>
<circle cx="671.8" cy="376.8" r="1.45"/>
<circle cx="671.8" cy="382.8" r="1.45"/>
<circle cx="671.8" cy="387.1" r="1.45"/>
<circle cx="671.8" cy="397.5" r="1.45"/>
<circle cx="671.8" cy="409.6" r="1.45"/>
<circle cx="671.8" cy="435" r="1.45"/>
</g>
<polyline points="407.9,307.5 410.3,323 413.5,346 416.8,349.5 427.7,384 434.7,367.5 447.6,390 460.5,400.1 487.2,394.9 513.6,379.4 540,345.8 565.9,359.5 618.8,368.3 671.8,350.9" fill="none" stroke="#000" stroke-width="1.65" stroke-dasharray="6 5.8" stroke-linejoin="round"/>
<polyline points="407.6,417 410.1,457 412.5,428 416.6,435 419,439 427.8,442.5 434.5,449.5 447.6,446.5 460.5,443.3 487.2,446.6 513.6,432.4 540,467.3 565.9,418.2 618.8,427.7 671.8,423.3" fill="none" stroke="#000" stroke-width="1.65" stroke-dasharray="6 5.8" stroke-linejoin="round"/>
<polyline points="407.6,388.9 410.1,393.3 412.6,395.9 414.5,392.7 417,406 420.8,406.6 427.8,425.5 434.3,417.9 447.9,423.6 460.5,427.7 487.2,424.6 513.6,415.6 540,411.2 565.9,404.5 618.8,406.5 671.8,380.7" fill="none" stroke="#000" stroke-width="3.1" stroke-linejoin="round"/>
<path d="M394.9,290.6V489H686" fill="none" stroke="#222" stroke-width="1.1"/>
<path d="M407.8,489v2.6M473.8,489v2.6M539.8,489v2.6M605.7,489v2.6M671.7,489v2.6M394.9,477.8h-2.6M394.9,435h-2.6M394.9,392.3h-2.6M394.9,349.6h-2.6M394.9,306.8h-2.6" stroke="#333" stroke-width="1.1" fill="none"/>
<g font-size="14" fill="#4d4d4d">
<text x="407.8" y="504.1" text-anchor="middle">0.0</text>
<text x="473.8" y="504.1" text-anchor="middle">2.5</text>
<text x="539.8" y="504.1" text-anchor="middle">5.0</text>
<text x="605.7" y="504.1" text-anchor="middle">7.5</text>
<text x="671.7" y="504.1" text-anchor="middle">10.0</text>
<text x="390.3" y="482.75" text-anchor="end">75</text>
<text x="390.3" y="439.95" text-anchor="end">100</text>
<text x="390.3" y="397.25" text-anchor="end">125</text>
<text x="390.3" y="354.55" text-anchor="end">150</text>
<text x="390.3" y="311.75" text-anchor="end">175</text>
</g>
</g>
<g>
<rect x="63.2" y="568.9" width="2.9" height="121.8" fill="#e0edf7"/>
<rect x="63.2" y="640" width="2.9" height="40" fill="#c2dbf0"/>
<rect x="66.1" y="566.1" width="3.8" height="138.5" fill="#e0edf7"/>
<rect x="66.1" y="660" width="3.8" height="40" fill="#c2dbf0"/>
<rect x="69.9" y="599.7" width="4.7" height="131.2" fill="#e0edf7"/>
<rect x="69.9" y="672.7" width="4.7" height="39.3" fill="#c2dbf0"/>
<rect x="74.6" y="614.2" width="6.3" height="120.8" fill="#e0edf7"/>
<rect x="74.6" y="674.7" width="6.3" height="33.1" fill="#c2dbf0"/>
<rect x="80.9" y="613" width="6.9" height="59.8" fill="#e0edf7"/>
<rect x="80.9" y="674.7" width="6.9" height="35.1" fill="#c2dbf0"/>
<rect x="80.9" y="706.2" width="6.9" height="3.6" fill="#accfea"/>
<rect x="80.9" y="709.8" width="6.9" height="30.8" fill="#e0edf7"/>
<rect x="87.8" y="613.2" width="13.3" height="59.6" fill="#e0edf7"/>
<rect x="87.8" y="674.7" width="13.3" height="35.1" fill="#c2dbf0"/>
<rect x="87.8" y="706.2" width="13.3" height="3.6" fill="#accfea"/>
<rect x="87.8" y="709.8" width="13.3" height="30.8" fill="#e0edf7"/>
<rect x="101.1" y="615.8" width="12.7" height="57.7" fill="#e0edf7"/>
<rect x="101.1" y="678.5" width="12.7" height="37.3" fill="#c2dbf0"/>
<rect x="101.1" y="706.2" width="12.7" height="9.6" fill="#accfea"/>
<rect x="101.1" y="715.8" width="12.7" height="27.1" fill="#e0edf7"/>
<rect x="113.8" y="618.2" width="26.4" height="55.2" fill="#e0edf7"/>
<rect x="113.8" y="677.3" width="26.4" height="34.2" fill="#c2dbf0"/>
<rect x="113.8" y="711.5" width="26.4" height="32.7" fill="#e0edf7"/>
<rect x="140.2" y="618.8" width="26.8" height="53.2" fill="#e0edf7"/>
<rect x="140.2" y="676" width="26.8" height="39.9" fill="#c2dbf0"/>
<rect x="140.2" y="710" width="26.8" height="5.9" fill="#accfea"/>
<rect x="140.2" y="715.9" width="26.8" height="28.3" fill="#e0edf7"/>
<rect x="167" y="620.3" width="25.7" height="46.5" fill="#e0edf7"/>
<rect x="167" y="671.3" width="25.7" height="41.4" fill="#c2dbf0"/>
<rect x="167" y="712.7" width="25.7" height="31.5" fill="#e0edf7"/>
<rect x="192.7" y="622.2" width="26.8" height="41.2" fill="#e0edf7"/>
<rect x="192.7" y="666.8" width="26.8" height="43.8" fill="#c2dbf0"/>
<rect x="192.7" y="707.5" width="26.8" height="3.1" fill="#accfea"/>
<rect x="192.7" y="710.6" width="26.8" height="32.3" fill="#e0edf7"/>
<rect x="219.5" y="622.2" width="52.2" height="38.6" fill="#e0edf7"/>
<rect x="219.5" y="660.8" width="52.2" height="48" fill="#c2dbf0"/>
<rect x="219.5" y="706.2" width="52.2" height="2.6" fill="#accfea"/>
<rect x="219.5" y="708.8" width="52.2" height="34.1" fill="#e0edf7"/>
<rect x="271.7" y="621.4" width="53.3" height="36.7" fill="#e0edf7"/>
<rect x="271.7" y="658.1" width="53.3" height="46.8" fill="#c2dbf0"/>
<rect x="271.7" y="658.1" width="53.3" height="2.1" fill="#accfea"/>
<rect x="271.7" y="702.3" width="53.3" height="2.6" fill="#accfea"/>
<rect x="271.7" y="704.9" width="53.3" height="38" fill="#e0edf7"/>
<g fill="none" stroke="#222" stroke-width="1.15">
<circle cx="63.2" cy="614.2" r="1.45"/>
<circle cx="65.5" cy="614.2" r="1.45"/>
<circle cx="64.2" cy="623.6" r="1.45"/>
<circle cx="61.4" cy="632.2" r="1.45"/>
<circle cx="63.2" cy="635" r="1.45"/>
<circle cx="68" cy="632.2" r="1.45"/>
<circle cx="65.1" cy="642.6" r="1.45"/>
<circle cx="69.9" cy="642.6" r="1.45"/>
<circle cx="61" cy="645.4" r="1.45"/>
<circle cx="63.2" cy="648.2" r="1.45"/>
<circle cx="66.1" cy="649.2" r="1.45"/>
<circle cx="61" cy="653" r="1.45"/>
<circle cx="64.2" cy="653" r="1.45"/>
<circle cx="68" cy="653" r="1.45"/>
<circle cx="61.4" cy="662.4" r="1.45"/>
<circle cx="61.4" cy="670.9" r="1.45"/>
<circle cx="64.2" cy="670.9" r="1.45"/>
<circle cx="61.4" cy="673.5" r="1.45"/>
<circle cx="65" cy="673.5" r="1.45"/>
<circle cx="68" cy="674.5" r="1.45"/>
<circle cx="69.9" cy="671.9" r="1.45"/>
<circle cx="74.6" cy="671.9" r="1.45"/>
<circle cx="74.6" cy="677.6" r="1.45"/>
<circle cx="66.1" cy="683.2" r="1.45"/>
<circle cx="69.9" cy="683.2" r="1.45"/>
<circle cx="61.4" cy="689.9" r="1.45"/>
<circle cx="81.2" cy="683.2" r="1.45"/>
<circle cx="87.8" cy="683.2" r="1.45"/>
<circle cx="87.8" cy="687" r="1.45"/>
<circle cx="101.1" cy="688.9" r="1.45"/>
<circle cx="101.1" cy="697.4" r="1.45"/>
<circle cx="101.1" cy="700.3" r="1.45"/>
<circle cx="81.2" cy="694.6" r="1.45"/>
<circle cx="69.9" cy="699.3" r="1.45"/>
<circle cx="69.9" cy="703.1" r="1.45"/>
<circle cx="69.9" cy="705" r="1.45"/>
<circle cx="81.2" cy="707.5" r="1.45"/>
<circle cx="87.8" cy="707.5" r="1.45"/>
<circle cx="73.6" cy="709.7" r="1.45"/>
<circle cx="73.6" cy="713.5" r="1.45"/>
<circle cx="74.6" cy="723.9" r="1.45"/>
<circle cx="74.6" cy="725.8" r="1.45"/>
<circle cx="81.2" cy="720.1" r="1.45"/>
<circle cx="87.8" cy="720.1" r="1.45"/>
<circle cx="81.2" cy="725.2" r="1.45"/>
<circle cx="87.8" cy="725.2" r="1.45"/>
<circle cx="100.7" cy="723.9" r="1.45"/>
<circle cx="100.7" cy="725.8" r="1.45"/>
<circle cx="100.7" cy="727.7" r="1.45"/>
<circle cx="81.2" cy="730.5" r="1.45"/>
<circle cx="87.8" cy="738.7" r="1.45"/>
<circle cx="100.7" cy="746.2" r="1.45"/>
<circle cx="87.8" cy="660.5" r="1.45"/>
<circle cx="63" cy="658" r="1.45"/>
<circle cx="66" cy="662" r="1.45"/>
<circle cx="64" cy="666" r="1.45"/>
<circle cx="113.9" cy="652.6" r="1.45"/>
<circle cx="113.9" cy="688.9" r="1.45"/>
<circle cx="113.9" cy="691.8" r="1.45"/>
<circle cx="113.9" cy="714.5" r="1.45"/>
<circle cx="113.9" cy="717.7" r="1.45"/>
<circle cx="113.9" cy="743.8" r="1.45"/>
<circle cx="140.2" cy="655.5" r="1.45"/>
<circle cx="140.2" cy="691.7" r="1.45"/>
<circle cx="140.2" cy="697" r="1.45"/>
<circle cx="140.2" cy="712.7" r="1.45"/>
<circle cx="140.2" cy="725.9" r="1.45"/>
<circle cx="140.2" cy="731.1" r="1.45"/>
<circle cx="167" cy="660.8" r="1.45"/>
<circle cx="167" cy="683.9" r="1.45"/>
<circle cx="167" cy="691.7" r="1.45"/>
<circle cx="167" cy="717.5" r="1.45"/>
<circle cx="192.7" cy="611.7" r="1.45"/>
<circle cx="192.7" cy="679.1" r="1.45"/>
<circle cx="192.7" cy="683.9" r="1.45"/>
<circle cx="192.7" cy="689.1" r="1.45"/>
<circle cx="192.7" cy="715.4" r="1.45"/>
<circle cx="192.7" cy="744.2" r="1.45"/>
<circle cx="219.5" cy="626.9" r="1.45"/>
<circle cx="219.5" cy="668.6" r="1.45"/>
<circle cx="219.5" cy="676.5" r="1.45"/>
<circle cx="219.5" cy="686.5" r="1.45"/>
<circle cx="219.5" cy="699.6" r="1.45"/>
<circle cx="219.5" cy="704.9" r="1.45"/>
<circle cx="219.5" cy="731.1" r="1.45"/>
<circle cx="219.5" cy="739" r="1.45"/>
<circle cx="271.7" cy="629.3" r="1.45"/>
<circle cx="271.7" cy="658.1" r="1.45"/>
<circle cx="271.7" cy="676.5" r="1.45"/>
<circle cx="271.7" cy="686.5" r="1.45"/>
<circle cx="271.7" cy="694.4" r="1.45"/>
<circle cx="271.7" cy="723.2" r="1.45"/>
<circle cx="271.7" cy="731.1" r="1.45"/>
<circle cx="325" cy="588.1" r="1.45"/>
<circle cx="325" cy="632.2" r="1.45"/>
<circle cx="325" cy="657.6" r="1.45"/>
<circle cx="325" cy="658.1" r="1.45"/>
<circle cx="325" cy="665.5" r="1.45"/>
<circle cx="325" cy="676" r="1.45"/>
<circle cx="325" cy="678.6" r="1.45"/>
<circle cx="325" cy="681.2" r="1.45"/>
</g>
<polyline points="63.2,621.8 66,623.5 68,631 70.5,641 73.9,665.5 81.2,683.5 87.4,667.5 100.6,690 113.8,663.4 140.2,666 167,668.6 192.7,635.3 219.5,641.3 271.7,639.8 325,604.6" fill="none" stroke="#000" stroke-width="1.65" stroke-dasharray="6 5.8" stroke-linejoin="round"/>
<polyline points="61.1,677 66.6,688 70,700 73.8,722 81.2,730.9 100.6,740.5 113.8,735 140.2,728.5 167,717.5 192.7,733.7 219.5,735.8 271.7,728.5 325,681.2" fill="none" stroke="#000" stroke-width="1.65" stroke-dasharray="6 5.8" stroke-linejoin="round"/>
<polyline points="60.8,663 64,652.5 65.8,659.5 70.1,683.8 81.2,713.6 87.4,713.6 100.6,720.5 113.8,709.6 140.2,706.2 167,694.4 192.7,684.4 219.5,693 271.7,687.8 325,662.3" fill="none" stroke="#000" stroke-width="3.1" stroke-linejoin="round"/>
<path d="M48.2,556.9V755.5H338" fill="none" stroke="#222" stroke-width="1.1"/>
<path d="M61,755.5v2.6M127,755.5v2.6M193,755.5v2.6M259,755.5v2.6M325,755.5v2.6M48.2,723h-2.6M48.2,671h-2.6M48.2,619.1h-2.6M48.2,567.2h-2.6" stroke="#333" stroke-width="1.1" fill="none"/>
<g font-size="14" fill="#4d4d4d">
<text x="61" y="770.6" text-anchor="middle">0.0</text>
<text x="127" y="770.6" text-anchor="middle">2.5</text>
<text x="193" y="770.6" text-anchor="middle">5.0</text>
<text x="259" y="770.6" text-anchor="middle">7.5</text>
<text x="325" y="770.6" text-anchor="middle">10.0</text>
<text x="43.6" y="727.95" text-anchor="end">60</text>
<text x="43.6" y="675.95" text-anchor="end">80</text>
<text x="43.6" y="624.05" text-anchor="end">100</text>
<text x="43.6" y="572.15" text-anchor="end">120</text>
</g>
</g>
<g>
<rect x="408.2" y="615.5" width="1.9" height="127.3" fill="#e0edf7"/>
<rect x="408.2" y="655" width="1.9" height="35" fill="#c2dbf0"/>
<rect x="410.1" y="611.7" width="5" height="131.1" fill="#e0edf7"/>
<rect x="410.1" y="650" width="5" height="35" fill="#c2dbf0"/>
<rect x="415.1" y="608.6" width="5.7" height="134.9" fill="#e0edf7"/>
<rect x="415.1" y="662" width="5.7" height="43" fill="#c2dbf0"/>
<rect x="420.8" y="614.2" width="7" height="129.3" fill="#e0edf7"/>
<rect x="420.8" y="665.7" width="7" height="42.3" fill="#c2dbf0"/>
<rect x="420.8" y="702" width="7" height="6" fill="#accfea"/>
<rect x="427.8" y="616.8" width="10" height="129.5" fill="#e0edf7"/>
<rect x="427.8" y="665.7" width="10" height="42.3" fill="#c2dbf0"/>
<rect x="427.8" y="702" width="10" height="6" fill="#accfea"/>
<rect x="437.8" y="618" width="9.5" height="128.3" fill="#e0edf7"/>
<rect x="437.8" y="665.7" width="9.5" height="40.3" fill="#c2dbf0"/>
<rect x="447.3" y="614.9" width="13.5" height="131.4" fill="#e0edf7"/>
<rect x="447.3" y="662.2" width="13.5" height="42.7" fill="#c2dbf0"/>
<rect x="447.3" y="662.2" width="13.5" height="3.8" fill="#accfea"/>
<rect x="460.8" y="616.1" width="26.3" height="129.4" fill="#e0edf7"/>
<rect x="460.8" y="663.4" width="26.3" height="41.5" fill="#c2dbf0"/>
<rect x="487.1" y="616.9" width="26.2" height="128.6" fill="#e0edf7"/>
<rect x="487.1" y="663.4" width="26.2" height="40.1" fill="#c2dbf0"/>
<rect x="513.3" y="615.6" width="26.5" height="128.6" fill="#e0edf7"/>
<rect x="513.3" y="660.8" width="26.5" height="42.7" fill="#c2dbf0"/>
<rect x="539.8" y="616.1" width="26.3" height="129.4" fill="#e0edf7"/>
<rect x="539.8" y="662.3" width="26.3" height="39.4" fill="#c2dbf0"/>
<rect x="539.8" y="698" width="26.3" height="3.7" fill="#accfea"/>
<rect x="566.1" y="615.6" width="52.7" height="130.7" fill="#e0edf7"/>
<rect x="566.1" y="658.1" width="52.7" height="42" fill="#c2dbf0"/>
<rect x="566.1" y="658.1" width="52.7" height="4.7" fill="#accfea"/>
<rect x="566.1" y="696.5" width="52.7" height="3.6" fill="#accfea"/>
<rect x="618.8" y="616.1" width="52.5" height="128.7" fill="#e0edf7"/>
<rect x="618.8" y="657.1" width="52.5" height="43" fill="#c2dbf0"/>
<rect x="618.8" y="657.1" width="52.5" height="2.9" fill="#accfea"/>
<g fill="none" stroke="#222" stroke-width="1.15">
<circle cx="434.3" cy="565.9" r="1.45"/>
<circle cx="416.9" cy="578.1" r="1.45"/>
<circle cx="409.8" cy="610.5" r="1.45"/>
<circle cx="411.8" cy="610.5" r="1.45"/>
<circle cx="409.8" cy="620" r="1.45"/>
<circle cx="414.8" cy="624.4" r="1.45"/>
<circle cx="414.8" cy="626.9" r="1.45"/>
<circle cx="407.9" cy="636.7" r="1.45"/>
<circle cx="407.9" cy="641.6" r="1.45"/>
<circle cx="412.3" cy="643.3" r="1.45"/>
<circle cx="407.9" cy="648.2" r="1.45"/>
<circle cx="410.7" cy="648.2" r="1.45"/>
<circle cx="413.1" cy="648.2" r="1.45"/>
<circle cx="416.4" cy="646.6" r="1.45"/>
<circle cx="421" cy="646.6" r="1.45"/>
<circle cx="416.4" cy="649" r="1.45"/>
<circle cx="412.3" cy="655.6" r="1.45"/>
<circle cx="414.8" cy="655.6" r="1.45"/>
<circle cx="409.8" cy="660.5" r="1.45"/>
<circle cx="407.9" cy="667" r="1.45"/>
<circle cx="407.9" cy="671.1" r="1.45"/>
<circle cx="407.9" cy="675.2" r="1.45"/>
<circle cx="410.7" cy="668.7" r="1.45"/>
<circle cx="410.7" cy="673.6" r="1.45"/>
<circle cx="421" cy="667" r="1.45"/>
<circle cx="421" cy="672" r="1.45"/>
<circle cx="410.7" cy="681.8" r="1.45"/>
<circle cx="416.4" cy="684.3" r="1.45"/>
<circle cx="416.4" cy="689.2" r="1.45"/>
<circle cx="421" cy="691.6" r="1.45"/>
<circle cx="421" cy="694.1" r="1.45"/>
<circle cx="407.9" cy="693.3" r="1.45"/>
<circle cx="416.4" cy="695.7" r="1.45"/>
<circle cx="427.9" cy="676.9" r="1.45"/>
<circle cx="427.9" cy="679.3" r="1.45"/>
<circle cx="427.9" cy="681.8" r="1.45"/>
<circle cx="427.9" cy="684.3" r="1.45"/>
<circle cx="434.4" cy="676.9" r="1.45"/>
<circle cx="434.4" cy="681.8" r="1.45"/>
<circle cx="434.4" cy="693.3" r="1.45"/>
<circle cx="427.9" cy="700.7" r="1.45"/>
<circle cx="434.4" cy="702.8" r="1.45"/>
<circle cx="434.4" cy="704.8" r="1.45"/>
<circle cx="421" cy="709.7" r="1.45"/>
<circle cx="427.9" cy="709.7" r="1.45"/>
<circle cx="447.5" cy="657.2" r="1.45"/>
<circle cx="447.5" cy="686.7" r="1.45"/>
<circle cx="447.5" cy="690.8" r="1.45"/>
<circle cx="447.5" cy="708.9" r="1.45"/>
<circle cx="447.5" cy="711.3" r="1.45"/>
<circle cx="447.5" cy="714.6" r="1.45"/>
<circle cx="412.5" cy="663" r="1.45"/>
<circle cx="409" cy="678" r="1.45"/>
<circle cx="413.5" cy="676" r="1.45"/>
<circle cx="460.8" cy="680" r="1.45"/>
<circle cx="460.8" cy="688" r="1.45"/>
<circle cx="460.8" cy="693" r="1.45"/>
<circle cx="460.8" cy="700" r="1.45"/>
<circle cx="460.8" cy="708" r="1.45"/>
<circle cx="460.8" cy="712" r="1.45"/>
<circle cx="460.8" cy="722" r="1.45"/>
<circle cx="487.1" cy="683.9" r="1.45"/>
<circle cx="487.1" cy="686.5" r="1.45"/>
<circle cx="487.1" cy="695.7" r="1.45"/>
<circle cx="487.1" cy="719.3" r="1.45"/>
<circle cx="487.1" cy="726.4" r="1.45"/>
<circle cx="487.1" cy="741.1" r="1.45"/>
<circle cx="513.3" cy="667.6" r="1.45"/>
<circle cx="513.3" cy="670.7" r="1.45"/>
<circle cx="513.3" cy="683.9" r="1.45"/>
<circle cx="513.3" cy="700.1" r="1.45"/>
<circle cx="513.3" cy="703.5" r="1.45"/>
<circle cx="513.3" cy="714.8" r="1.45"/>
<circle cx="513.3" cy="721.9" r="1.45"/>
<circle cx="539.8" cy="657.6" r="1.45"/>
<circle cx="539.8" cy="660.2" r="1.45"/>
<circle cx="539.8" cy="672" r="1.45"/>
<circle cx="539.8" cy="693.8" r="1.45"/>
<circle cx="539.8" cy="702.2" r="1.45"/>
<circle cx="539.8" cy="708" r="1.45"/>
<circle cx="539.8" cy="714.8" r="1.45"/>
<circle cx="539.8" cy="726.4" r="1.45"/>
<circle cx="566.1" cy="660.2" r="1.45"/>
<circle cx="566.1" cy="665" r="1.45"/>
<circle cx="566.1" cy="674.7" r="1.45"/>
<circle cx="566.1" cy="683.9" r="1.45"/>
<circle cx="566.1" cy="693.8" r="1.45"/>
<circle cx="566.1" cy="709.6" r="1.45"/>
<circle cx="566.1" cy="726.4" r="1.45"/>
<circle cx="618.8" cy="660.2" r="1.45"/>
<circle cx="618.8" cy="667.6" r="1.45"/>
<circle cx="618.8" cy="679.1" r="1.45"/>
<circle cx="618.8" cy="691.2" r="1.45"/>
<circle cx="618.8" cy="702.8" r="1.45"/>
<circle cx="618.8" cy="731.1" r="1.45"/>
<circle cx="671.3" cy="629.3" r="1.45"/>
<circle cx="671.3" cy="644" r="1.45"/>
<circle cx="671.3" cy="646.6" r="1.45"/>
<circle cx="671.3" cy="662.9" r="1.45"/>
<circle cx="671.3" cy="671.3" r="1.45"/>
<circle cx="671.3" cy="674.7" r="1.45"/>
<circle cx="671.3" cy="679.1" r="1.45"/>
</g>
<polyline points="408,640 410.5,614.5 412.3,619 417,604.5 427,686 434.2,608.5 447.1,669.4 460.8,682.5 487.1,685.2 513.3,669.4 539.8,658.9 566.1,662.3 618.8,662.9 671.3,629.3" fill="none" stroke="#000" stroke-width="1.65" stroke-dasharray="6 5.8" stroke-linejoin="round"/>
<polyline points="407.7,686 412,686 420.8,702.5 434,705 447.1,714 460.8,718 487.1,736.4 513.3,719.3 539.8,721.9 566.1,720.1 618.8,720.1 671.3,679.1" fill="none" stroke="#000" stroke-width="1.65" stroke-dasharray="6 5.8" stroke-linejoin="round"/>
<polyline points="407.6,672 413,660 415.8,682 420.8,681 427.6,686.5 434,686.5 447.2,696.3 460.8,695.7 487.1,691.7 513.3,686.5 539.8,700.1 566.1,691.2 618.8,693.8 671.3,662.9" fill="none" stroke="#000" stroke-width="3.1" stroke-linejoin="round"/>
<path d="M394.9,557.1V755.5H686" fill="none" stroke="#222" stroke-width="1.1"/>
<path d="M407.8,755.5v2.6M473.7,755.5v2.6M539.7,755.5v2.6M605.6,755.5v2.6M671.5,755.5v2.6M394.9,719.3h-2.6M394.9,672h-2.6M394.9,624.8h-2.6M394.9,577.6h-2.6" stroke="#333" stroke-width="1.1" fill="none"/>
<g font-size="14" fill="#4d4d4d">
<text x="407.8" y="770.6" text-anchor="middle">0.0</text>
<text x="473.7" y="770.6" text-anchor="middle">2.5</text>
<text x="539.7" y="770.6" text-anchor="middle">5.0</text>
<text x="605.6" y="770.6" text-anchor="middle">7.5</text>
<text x="671.5" y="770.6" text-anchor="middle">10.0</text>
<text x="390.3" y="724.25" text-anchor="end">60</text>
<text x="390.3" y="676.95" text-anchor="end">80</text>
<text x="390.3" y="629.75" text-anchor="end">100</text>
<text x="390.3" y="582.55" text-anchor="end">120</text>
</g>
</g>
<text x="40.2" y="14.9" font-size="17" font-weight="bold" fill="#000">A</text>
<text x="387.6" y="14.9" font-size="17" font-weight="bold" fill="#000">B</text>
<text x="48.4" y="281.6" font-size="17" font-weight="bold" fill="#000">C</text>
<text x="395.4" y="281.5" font-size="17" font-weight="bold" fill="#000">D</text>
<text x="48.6" y="547.8" font-size="17" font-weight="bold" fill="#000">E</text>
<text x="395.2" y="547.8" font-size="17" font-weight="bold" fill="#000">F</text>
<text x="185.4" y="14.9" font-size="17" font-weight="bold" text-anchor="middle" fill="#000">Intravenous</text>
<text x="532.9" y="14.9" font-size="17" font-weight="bold" text-anchor="middle" fill="#000">Subcutaneous</text>
<text x="193.3" y="787.8" font-size="16.2" text-anchor="middle" fill="#000">Time (hr)</text>
<text x="540.3" y="787.8" font-size="16.2" text-anchor="middle" fill="#000">Time (hr)</text>
<text transform="translate(13.7,123) rotate(-90)" font-size="16.2" text-anchor="middle" fill="#000">Heart Rate (beats/min)</text>
<text transform="translate(13.7,389.8) rotate(-90)" font-size="16.2" text-anchor="middle" fill="#000">Systolic BP (mmHg)</text>
<text transform="translate(13.7,656.2) rotate(-90)" font-size="16.2" text-anchor="middle" fill="#000">Diastolic BP (mmHg)</text>
</svg></body></html>
